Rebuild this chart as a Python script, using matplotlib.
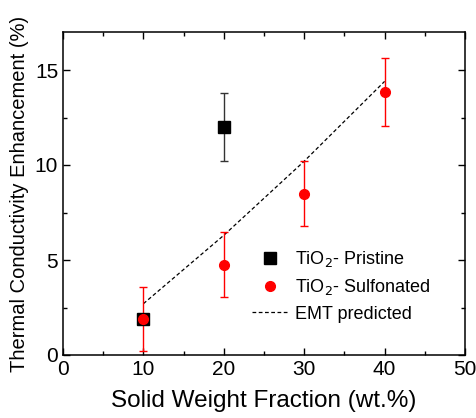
import matplotlib
matplotlib.use("Agg")
import matplotlib.pyplot as plt
from matplotlib.lines import Line2D
from matplotlib.ticker import MultipleLocator

plt.rcParams['font.family'] = ['Liberation Sans', 'DejaVu Sans']

# pristine TiO2
pristine_x = [10, 20]
pristine_y = [1.9, 12.0]
pristine_err = [0.0, 1.8]

# sulfonated TiO2
sulf_x = [10, 20, 30, 40]
sulf_y = [1.9, 4.75, 8.5, 13.85]
sulf_err = [1.7, 1.7, 1.7, 1.8]

# EMT prediction
emt_x = [10, 20, 30, 40]
emt_y = [2.7, 6.3, 10.2, 14.4]


def main():
    fig = plt.figure(figsize=(4.77, 4.18), dpi=100)
    ax = fig.add_axes([63 / 477, 63 / 418, 402 / 477, 323 / 418])

    ax.plot(emt_x, emt_y, color='black', lw=0.9, dashes=(3, 2))
    ax.errorbar(pristine_x, pristine_y, yerr=pristine_err, fmt='s', color='black',
                ms=9, ecolor='#333333', elinewidth=1, capsize=3)
    ax.errorbar(sulf_x, sulf_y, yerr=sulf_err, fmt='o', color='red',
                ms=7, ecolor='red', elinewidth=1, capsize=3)

    ax.set_xlim(0, 50)
    ax.set_ylim(0, 17)
    ax.xaxis.set_major_locator(MultipleLocator(10))
    ax.xaxis.set_minor_locator(MultipleLocator(5))
    ax.yaxis.set_major_locator(MultipleLocator(5))
    ax.yaxis.set_minor_locator(MultipleLocator(2.5))
    ax.tick_params(which='both', direction='in', top=True, right=True,
                   labelsize=15, width=1)
    ax.tick_params(which='major', length=5)
    ax.tick_params(which='minor', length=3)
    for s in ax.spines.values():
        s.set_linewidth(1.1)

    ax.set_xlabel('Solid Weight Fraction (wt.%)', fontsize=17.5, labelpad=8)
    ax.set_ylabel('Thermal Conductivity Enhancement (%)', fontsize=14.5, labelpad=4)

    handles = [
        Line2D([], [], ls='none', marker='s', color='black', ms=9),
        Line2D([], [], ls='none', marker='o', color='red', ms=7),
        Line2D([], [], color='black', lw=0.9, dashes=(3, 2)),
    ]
    labels = ['TiO$_2$- Pristine', 'TiO$_2$- Sulfonated', 'EMT predicted']
    ax.legend(handles, labels, loc='lower right', bbox_to_anchor=(0.955, 0.05),
              frameon=False, fontsize=13, handlelength=2.0, labelspacing=0.45,
              handletextpad=0.4)

    fig.savefig('out.png', dpi=100)


if __name__ == "__main__":
    main()
